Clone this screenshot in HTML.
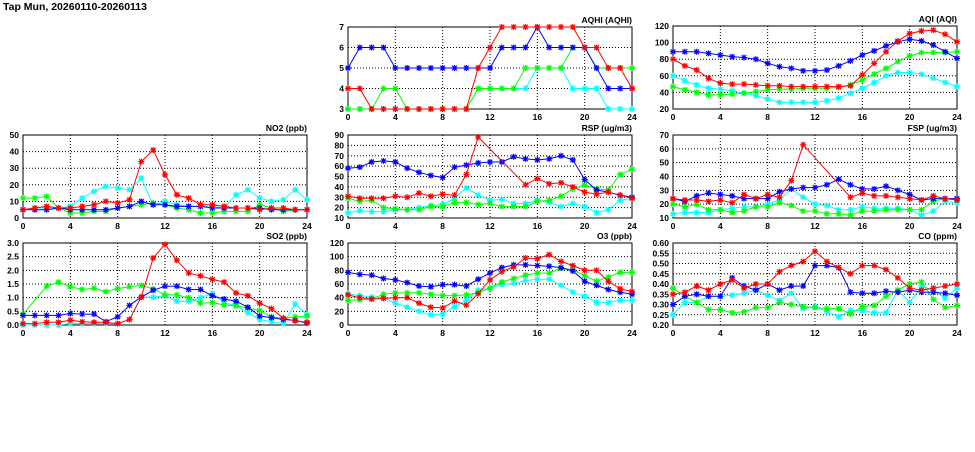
<!DOCTYPE html>
<html><head><meta charset="utf-8"><style>
body{margin:0;background:#fff;width:975px;height:447px;overflow:hidden}
svg text{font-family:"Liberation Sans",sans-serif;font-weight:bold;fill:#000}
</style></head><body>
<svg id="c" width="975" height="447" xmlns="http://www.w3.org/2000/svg">
<text x="3" y="10" font-size="10.5">Tap Mun, 20260110-20260113</text>
</svg>
<script>
const hours=[0,1,2,3,4,5,6,7,8,9,10,11,12,13,14,15,16,17,18,19,20,21,22,23,24];
const xTicks=[0,4,8,12,16,20,24];
const N=null;
const aqhiBlue=[5,6,6,6,5,5,5,5,5,5,5,5,5,6,6,6,7,6,6,6,6,5,4,4,4];
const aqhiRed=[4,4,3,3,3,3,3,3,3,3,3,5,6,7,7,7,7,7,7,7,6,6,5,5,4];
const aqhiGreen=[3,3,3,4,4,3,3,3,3,3,3,4,4,4,4,5,5,5,5,6,6,5,5,5,5];
const aqhiCyan=[3,3,3,3,3,3,3,3,3,3,3,4,4,4,4,4,5,5,5,4,4,4,3,3,3];
const aqhiTicks=[3,4,5,6,7];
const aqiBlue=[89,89,89,87,85,83,82,80,75,71,69,66,66,67,72,78,85,90,96,101,104,102,97,89,81];
const aqiRed=[80,72,67,57,51,50,50,49,48,48,47,47,47,47,47,48,61,75,89,102,111,114,115,110,101];
const aqiGreen=[47,43,40,37,37,38,39,41,43,44,44,45,45,45,46,49,55,62,69,77,84,88,88,88,89];
const aqiCyan=[60,54,49,45,44,42,39,36,32,28,28,28,28,30,33,39,45,52,60,64,64,62,57,52,47];
const aqiTicks=[20,40,60,80,100,120];
const no2Red=[5,6,7,6,6,7,8,10,9,11,34,41,26,14,12,8,8,7,6,6,5,6,6,5,5];
const no2Blue=[5,5,5,6,5,5,5,5,6,7,10,8,8,7,7,7,6,6,6,6,6,5,5,5,5];
const no2Green=[12,12,13,6,3,3,4,4,6,7,8,9,8,6,5,3,3,4,4,4,8,6,4,5,5];
const no2Cyan=[5,6,6,6,7,12,16,19,18,17,24,8,10,8,7,7,7,6,14,17,12,10,11,17,11];
const no2Ticks=[0,10,20,30,40,50];
const rspBlue=[58,59,64,65,64,58,54,51,49,59,61,63,64,64,69,67,66,67,70,66,47,37,35,32,30];
const rspRed=[31,29,29,29,31,30,34,31,33,32,52,88,N,N,N,42,48,43,44,40,35,33,35,32,29];
const rspGreen=[29,26,27,20,19,18,18,21,21,25,25,23,24,21,21,21,26,27,31,38,42,38,37,52,57];
const rspCyan=[15,17,16,16,18,18,20,22,23,29,39,32,27,28,24,24,27,25,21,24,21,15,18,27,29];
const rspTicks=[10,20,30,40,50,60,70,80,90];
const fspBlue=[24,22,26,28,27,26,24,24,24,29,31,32,32,34,38,34,31,31,33,30,27,23,24,24,24];
const fspRed=[24,23,23,22,23,21,27,24,27,25,37,63,N,N,N,25,28,26,26,25,24,23,26,24,23];
const fspGreen=[20,18,20,16,16,14,15,18,18,21,19,15,15,13,13,12,15,15,16,16,16,16,22,24,23];
const fspCyan=[13,14,14,14,16,17,18,18,20,23,31,25,20,19,16,16,18,17,17,17,16,12,15,22,21];
const fspTicks=[10,20,30,40,50,60,70];
const so2Red=[0.05,0.05,0.1,0.1,0.18,0.12,0.1,0.1,0.05,0.2,1.03,2.45,2.95,2.37,1.9,1.8,1.67,1.57,1.17,1.07,0.8,0.6,0.25,0.15,0.1];
const so2Blue=[0.35,0.35,0.35,0.35,0.42,0.4,0.4,0.12,0.3,0.72,1.02,1.27,1.42,1.42,1.3,1.3,1.07,0.95,0.87,0.65,0.33,0.27,0.2,0.17,0.07];
const so2Green=[0.4,N,1.42,1.57,1.4,1.3,1.35,1.22,1.33,1.4,1.45,1.32,1.1,1.1,1.0,0.8,0.82,0.73,0.7,0.62,0.53,0.3,0.25,0.3,0.33];
const so2Cyan=[0,0,0,0,0.05,0.05,0.05,0.05,0.05,0.2,1.02,1.02,1.07,0.87,0.87,1.0,1.15,0.8,0.72,0.45,0.2,0.12,0.05,0.77,0.38];
const so2Ticks=[0,0.5,1.0,1.5,2.0,2.5,3.0];
const o3Blue=[77,74,73,68,66,62,57,56,59,59,57,67,76,84,88,88,87,86,84,79,64,58,52,48,45];
const o3Red=[44,40,38,39,40,40,32,26,25,35,29,46,66,78,85,98,97,103,93,87,80,80,64,53,49];
const o3Green=[36,37,38,45,47,47,47,45,43,43,44,47,54,63,68,73,76,76,83,81,72,64,70,77,77];
const o3Cyan=[46,43,41,40,32,26,20,15,16,27,36,51,54,59,61,65,67,67,58,48,42,33,33,36,36];
const o3Ticks=[0,20,40,60,80,100,120];
const coRed=[0.35,0.36,0.39,0.37,0.40,0.42,0.38,0.40,0.40,0.46,0.49,0.51,0.56,0.51,0.48,0.45,0.49,0.49,0.47,0.43,0.38,0.37,0.38,0.39,0.40];
const coBlue=[0.30,0.34,0.35,0.34,0.34,0.43,0.39,0.37,0.40,0.37,0.39,0.39,0.49,0.49,0.48,0.36,0.355,0.355,0.365,0.36,0.37,0.36,0.36,0.355,0.345];
const coGreen=[0.38,0.34,0.31,0.275,0.275,0.26,0.265,0.285,0.285,0.31,0.30,0.29,0.285,0.28,0.28,0.255,0.29,0.295,0.34,0.37,0.40,0.41,0.325,0.285,0.295];
const coCyan=[0.25,0.31,0.31,0.34,0.34,0.345,0.355,0.37,0.345,0.32,0.355,0.28,0.29,0.265,0.24,0.27,0.27,0.26,0.26,0.37,0.31,0.39,0.37,0.33,0.38];
const coTicks=[0.20,0.25,0.30,0.35,0.40,0.45,0.50,0.55,0.60];

const NS="http://www.w3.org/2000/svg";
const svg=document.getElementById('c');
function mk(tag,attrs,parent){const e=document.createElementNS(NS,tag);for(const k in attrs)e.setAttribute(k,attrs[k]);(parent||svg).appendChild(e);return e;}

const panels=[
 {name:'aqhi',title:'AQHI (AQHI)',x0:348,x1:632,y0:27,y1:109,ticks:aqhiTicks,dec:0,s:[aqhiCyan,aqhiGreen,aqhiBlue,aqhiRed]},
 {name:'aqi',title:'AQI (AQI)',x0:673,x1:957,y0:26,y1:109,ticks:aqiTicks,dec:0,s:[aqiCyan,aqiGreen,aqiBlue,aqiRed]},
 {name:'no2',title:'NO2 (ppb)',x0:23,x1:307,y0:135,y1:218,ticks:no2Ticks,dec:0,s:[no2Cyan,no2Green,no2Blue,no2Red]},
 {name:'rsp',title:'RSP (ug/m3)',x0:348,x1:632,y0:135,y1:218,ticks:rspTicks,dec:0,s:[rspCyan,rspGreen,rspBlue,rspRed]},
 {name:'fsp',title:'FSP (ug/m3)',x0:673,x1:957,y0:135,y1:218,ticks:fspTicks,dec:0,s:[fspCyan,fspGreen,fspBlue,fspRed]},
 {name:'so2',title:'SO2 (ppb)',x0:23,x1:307,y0:243,y1:325,ticks:so2Ticks,dec:1,s:[so2Cyan,so2Green,so2Blue,so2Red]},
 {name:'o3',title:'O3 (ppb)',x0:348,x1:632,y0:243,y1:325,ticks:o3Ticks,dec:0,s:[o3Cyan,o3Green,o3Blue,o3Red]},
 {name:'co',title:'CO (ppm)',x0:673,x1:957,y0:243,y1:325,ticks:coTicks,dec:2,s:[coCyan,coGreen,coBlue,coRed]}
];
const colors=['#00ffff','#00ff00','#0000ff','#ff0000'];
const cnames=['cyan','green','blue','red'];

panels.forEach(p=>{
 const g=mk('g',{});
 
 
 const ymin=p.ticks[0],ymax=p.ticks[p.ticks.length-1];
 const sx=v=>p.x0+(v-hours[0])/(24)*(p.x1-p.x0);
 const sy=v=>p.y1-(v-ymin)/(ymax-ymin)*(p.y1-p.y0);
 // grid
 p.ticks.forEach((t,i)=>{
  if(i>0&&i<p.ticks.length-1){const l=mk('line',{x1:p.x0,x2:p.x1,y1:sy(t),y2:sy(t),stroke:'#000','stroke-width':1,'stroke-dasharray':'1,2'},g);}
  const tx=mk('text',{x:p.x0-4,y:sy(t)+3,'font-size':8.5,'text-anchor':'end'},g);
  tx.textContent=t.toFixed(p.dec);
  
  
 });
 xTicks.forEach((t,i)=>{
  if(i>0&&i<xTicks.length-1){const l=mk('line',{x1:sx(t),x2:sx(t),y1:p.y0,y2:p.y1,stroke:'#000','stroke-width':1,'stroke-dasharray':'1,2'},g);}
  const tx=mk('text',{x:sx(t),y:p.y1+11,'font-size':8.5,'text-anchor':'middle'},g);
  tx.textContent=t;
  
  
 });
 const fr=mk('rect',{x:p.x0,y:p.y0,width:p.x1-p.x0,height:p.y1-p.y0,fill:'none',stroke:'#000','stroke-width':1},g);
 
 
 const ti=mk('text',{x:p.x1,y:p.y0-4,'font-size':8.5,'text-anchor':'end'},g);
 ti.textContent=p.title;
 
 
 p.s.forEach((arr,si)=>{
  const col=colors[si];
  const pts=[];
  arr.forEach((v,i)=>{if(v!==null)pts.push([sx(hours[i]),sy(v)]);});
  const pl=mk('polyline',{points:pts.map(q=>q[0].toFixed(1)+','+q[1].toFixed(1)).join(' '),fill:'none',stroke:col,'stroke-width':1},g);
  
  
  pts.forEach(q=>{
   const m=mk('path',{d:`M${q[0]-3},${q[1]}h6M${q[0]},${q[1]-3}v6M${q[0]-2.3},${q[1]-2.3}l4.6,4.6M${q[0]-2.3},${q[1]+2.3}l4.6,-4.6`,stroke:col,'stroke-width':1.2},g);
   
   
  });
 });
});
</script>
</body></html>
